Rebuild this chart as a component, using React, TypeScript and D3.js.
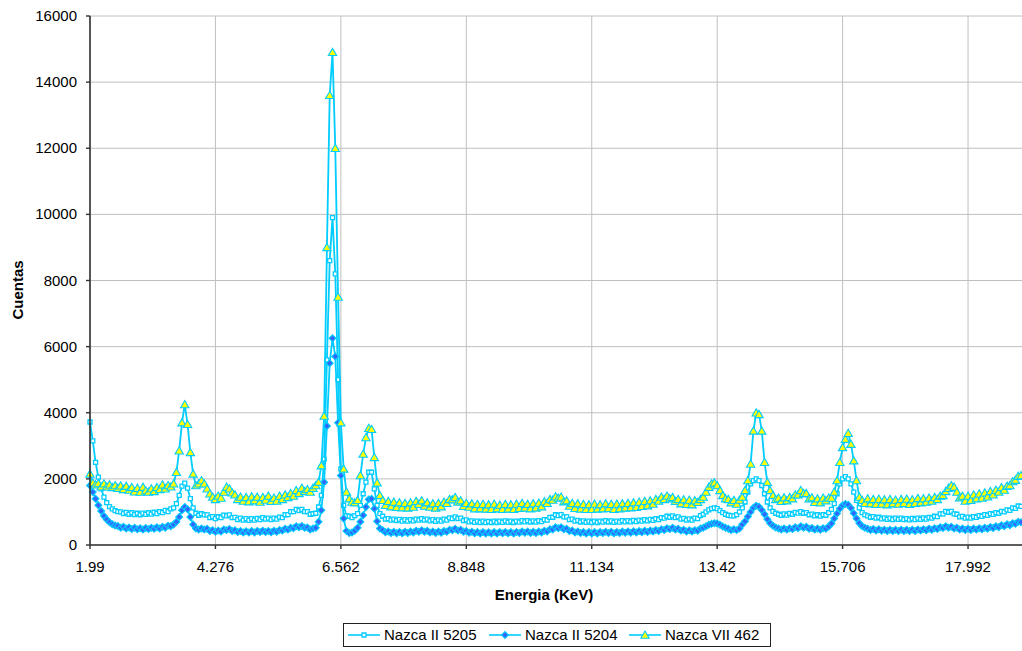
import React, { useEffect } from "react";
import * as d3 from "d3";

const W = 1022;
const H = 651;

const xTickLabels = ["1.99", "4.276", "6.562", "8.848", "11.134", "13.42", "15.706", "17.992"];
const xTickEvery = 45;
const yTicks = [0, 2000, 4000, 6000, 8000, 10000, 12000, 14000, 16000];
const seriesNames = ["Nazca II 5205", "Nazca II 5204", "Nazca VII 462"];

const nazcaII5205 = [
  3720, 3150, 2500, 2050, 1700, 1450, 1280, 1160, 1090, 1040,
  1010, 1000, 950, 985, 930, 975, 920, 960, 915, 965,
  925, 975, 935, 990, 950, 1010, 980, 1045, 1010, 1090,
  1120, 1250, 1500, 1780, 1870, 1720, 1400, 1120, 960, 900,
  945, 910, 910, 830, 860, 800, 855, 830, 905, 880,
  910, 830, 835, 770, 810, 750, 795, 745, 795, 755,
  805, 770, 825, 780, 815, 765, 815, 780, 845, 830,
  915, 920, 1010, 1010, 1075, 1040, 1075, 1010, 1010, 930,
  945, 960, 1150, 1500, 2600, 5600, 8600, 9900, 8200, 5000,
  2300, 1200, 880, 870, 830, 890, 950, 1200, 1550, 1900,
  2200, 2200, 1700, 1200, 950, 870, 780, 800, 750, 785,
  740, 775, 725, 765, 720, 770, 730, 785, 750, 800,
  750, 785, 730, 765, 715, 760, 720, 780, 755, 820,
  800, 850, 800, 810, 740, 760, 700, 730, 685, 720,
  680, 720, 675, 715, 680, 720, 680, 720, 685, 730,
  685, 720, 680, 725, 690, 735, 700, 740, 695, 730,
  690, 735, 705, 765, 755, 835, 840, 915, 890, 920,
  850, 850, 770, 780, 720, 745, 695, 730, 685, 720,
  680, 720, 680, 725, 690, 735, 695, 730, 685, 725,
  690, 735, 700, 740, 700, 745, 710, 755, 720, 765,
  730, 775, 745, 795, 770, 830, 810, 870, 840, 880,
  830, 850, 785, 805, 755, 790, 755, 810, 800, 890,
  930, 1000, 1060, 1100, 1120, 1100, 1040, 980, 930, 900,
  880, 880, 920, 1000, 1120, 1300, 1600, 1850, 1950, 2000,
  1950, 1800, 1550, 1300, 1120, 1020, 960, 930, 900, 940,
  905, 955, 930, 985, 965, 1010, 960, 980, 915, 935,
  880, 915, 875, 920, 900, 980, 1080, 1250, 1550, 1850,
  2000, 2070, 2000, 1850, 1600, 1350, 1120, 980, 910, 880,
  840, 860, 810, 840, 790, 820, 775, 810, 770, 810,
  775, 810, 765, 800, 760, 805, 770, 810, 775, 820,
  785, 835, 810, 870, 860, 940, 940, 1015, 990, 1020,
  940, 930, 850, 865, 810, 845, 810, 860, 835, 890,
  865, 920, 895, 950, 925, 980, 960, 1020, 1000, 1060,
  1050, 1120, 1110, 1180, 1170,
];

const nazcaII5204 = [
  1800, 1600, 1400, 1200, 1030, 880, 770, 690, 630, 590,
  575, 525, 550, 500, 530, 485, 520, 475, 510, 470,
  515, 480, 525, 490, 535, 500, 550, 525, 585, 570,
  620, 700, 850, 1050, 1150, 1080, 850, 620, 500, 470,
  500, 470, 490, 425, 450, 400, 440, 410, 470, 450,
  485, 425, 445, 390, 420, 375, 415, 375, 420, 380,
  425, 390, 430, 390, 425, 385, 430, 400, 455, 435,
  490, 465, 520, 510, 570, 540, 575, 520, 530, 470,
  500, 520, 700, 1050, 1900, 3600, 5500, 6250, 5700, 3700,
  2100, 800, 420, 360, 380, 430, 520, 700, 900, 1150,
  1380, 1400, 1100, 720, 500, 450, 385, 410, 360, 400,
  355, 395, 355, 400, 365, 410, 380, 430, 400, 445,
  400, 430, 380, 410, 365, 405, 370, 420, 400, 465,
  445, 490, 440, 460, 400, 420, 370, 400, 355, 390,
  350, 390, 345, 385, 350, 390, 350, 390, 355, 395,
  355, 390, 350, 395, 360, 405, 370, 410, 365, 400,
  360, 405, 375, 430, 410, 480, 470, 535, 505, 535,
  475, 490, 425, 440, 380, 410, 360, 395, 350, 390,
  350, 390, 350, 395, 360, 400, 360, 400, 355, 395,
  360, 405, 370, 410, 370, 415, 380, 420, 385, 430,
  395, 440, 405, 455, 425, 480, 455, 510, 480, 520,
  470, 495, 435, 460, 410, 445, 405, 450, 430, 500,
  520, 570, 610, 640, 660, 650, 610, 560, 520, 490,
  450, 480, 450, 500, 620, 720, 860, 1000, 1130, 1190,
  1160, 1060, 930, 780, 660, 580, 530, 500, 470, 500,
  465, 510, 480, 535, 510, 565, 525, 550, 490, 515,
  465, 500, 460, 510, 490, 560, 650, 800, 950, 1100,
  1200, 1240, 1220, 1120, 960, 800, 660, 570, 520, 490,
  455, 485, 440, 475, 430, 465, 420, 460, 420, 460,
  420, 460, 420, 460, 420, 465, 425, 470, 435, 480,
  445, 490, 460, 510, 485, 540, 515, 565, 525, 555,
  500, 525, 470, 500, 455, 495, 455, 500, 465, 510,
  475, 525, 495, 545, 515, 565, 540, 595, 570, 625,
  600, 660, 640, 700, 690,
];

const nazcaVII462 = [
  2150, 1880, 1820, 1860, 1760, 1850, 1760, 1820, 1740, 1800,
  1720, 1790, 1680, 1780, 1660, 1740, 1610, 1720, 1600, 1750,
  1640, 1600, 1700, 1620, 1740, 1680, 1820, 1700, 1800, 1760,
  1850, 2200, 2850, 3700, 4250, 3650, 2800, 2150, 1800, 1850,
  1950, 1850, 1700, 1550, 1450, 1380, 1480, 1420, 1600, 1750,
  1700, 1580, 1520, 1380, 1450, 1330, 1440, 1310, 1460, 1340,
  1450, 1300, 1440, 1360, 1480, 1320, 1420, 1330, 1480, 1380,
  1520, 1440, 1560, 1480, 1650, 1560, 1720, 1620, 1680, 1600,
  1720, 1800, 1900, 2400, 3900, 9000, 13600, 14900, 12000, 7500,
  3700, 2300, 1600, 1400, 1300, 1280, 1350, 2100, 2750, 3250,
  3530, 3500, 2650, 1880, 1500, 1350, 1200, 1320, 1160, 1300,
  1140, 1280, 1130, 1260, 1120, 1280, 1150, 1320, 1230, 1340,
  1180, 1280, 1150, 1250, 1120, 1260, 1160, 1300, 1260, 1380,
  1370, 1440, 1300, 1340, 1170, 1260, 1150, 1250, 1100, 1230,
  1100, 1230, 1090, 1220, 1080, 1240, 1100, 1210, 1080, 1230,
  1090, 1220, 1080, 1240, 1110, 1260, 1120, 1230, 1100, 1250,
  1120, 1270, 1160, 1310, 1260, 1380, 1360, 1460, 1420, 1450,
  1310, 1340, 1180, 1260, 1110, 1250, 1090, 1230, 1080, 1220,
  1080, 1240, 1090, 1220, 1100, 1250, 1110, 1230, 1080, 1240,
  1100, 1250, 1120, 1260, 1130, 1280, 1140, 1300, 1170, 1320,
  1190, 1340, 1240, 1380, 1330, 1450, 1380, 1480, 1400, 1440,
  1320, 1380, 1250, 1370, 1230, 1360, 1220, 1340, 1290, 1380,
  1450, 1600, 1750, 1850, 1880, 1800, 1650, 1500, 1400, 1380,
  1280, 1350, 1240, 1360, 1450, 1650, 1950, 2450, 3450, 4000,
  3950, 3450, 2500, 1900, 1650, 1500, 1380, 1420, 1320, 1430,
  1340, 1440, 1400, 1520, 1520, 1650, 1560, 1560, 1400, 1430,
  1290, 1400, 1280, 1420, 1340, 1420, 1420, 1600, 1950, 2500,
  2950, 3200, 3380, 3050, 2550, 1950, 1450, 1350, 1260, 1400,
  1250, 1380, 1230, 1390, 1240, 1370, 1220, 1380, 1250, 1360,
  1240, 1380, 1260, 1390, 1230, 1370, 1260, 1410, 1280, 1400,
  1300, 1420, 1330, 1440, 1380, 1480, 1500, 1620, 1720, 1800,
  1750, 1600, 1430, 1480, 1330, 1480, 1350, 1520, 1400, 1550,
  1420, 1580, 1460, 1620, 1520, 1660, 1600, 1740, 1660, 1780,
  1800, 1920, 1960, 2080, 2100,
];

const LINE = "#00CCFF";
const FONT = "'Liberation Sans', Arial, Helvetica, sans-serif";

const PL = 90, PR = 1021, PT = 16, PB = 545;

const squarePath = d3.symbol().type(d3.symbolSquare).size(16)() as string;
const diamondPath = d3.symbol().type(d3.symbolSquare).size(24)() as string;
const trianglePath = d3.symbol().type(d3.symbolTriangle).size(30)() as string;

function Marker({ kind, cx, cy }: { kind: number; cx: number; cy: number }) {
  if (kind === 0)
    return <path d={squarePath} transform={`translate(${cx},${cy})`} fill="#ffffff" stroke={LINE} strokeWidth={1.3} />;
  if (kind === 1)
    return <path d={diamondPath} transform={`translate(${cx},${cy}) rotate(45)`} fill="#3366FF" stroke={LINE} strokeWidth={1.1} />;
  return <path d={trianglePath} transform={`translate(${cx},${cy + 0.8})`} fill="#FFFF00" stroke={LINE} strokeWidth={1.1} />;
}

export default function App() {
  useEffect(() => {
    document.body.style.margin = "0";
  }, []);

  const allSeries = [nazcaII5205, nazcaII5204, nazcaVII462];
  const N = nazcaII5205.length;
  const x = d3.scaleLinear().domain([0, N - 1]).range([PL, PR]);
  const y = d3.scaleLinear().domain([0, 16000]).range([PB, PT]);
  const line = d3.line<number>().x((_, i) => x(i)).y((d) => y(d));

  const xTicks = xTickLabels.map((lab, k) => ({ lab, i: k * xTickEvery }));

  const legendX = [348, 489, 629];
  const legendY = 635;

  return (
    <svg width={W} height={H} style={{ position: "absolute", left: 0, top: 0, background: "#fff" }} fontFamily={FONT}>
      <rect x={0} y={0} width={W} height={H} fill="#fff" />
      {yTicks.map((t) => (
        <line key={"gy" + t} x1={PL} x2={PR + 2} y1={y(t)} y2={y(t)} stroke="#c0c0c0" strokeWidth={1} />
      ))}
      {xTicks.map((t) => (
        <line key={"gx" + t.i} x1={x(t.i)} x2={x(t.i)} y1={PT} y2={PB} stroke="#c0c0c0" strokeWidth={1} />
      ))}
      {allSeries.map((s, k) => (
        <g key={"s" + k}>
          <path d={line(s) as string} fill="none" stroke={LINE} strokeWidth={1.8} strokeLinejoin="round" />
          {s.map((v, i) => (
            <Marker key={i} kind={k} cx={x(i)} cy={y(v)} />
          ))}
        </g>
      ))}
      <line x1={PL} x2={PL} y1={PT} y2={PB} stroke="#333" strokeWidth={1.6} />
      <line x1={PL} x2={PR + 2} y1={PB} y2={PB} stroke="#333" strokeWidth={1.6} />
      {yTicks.map((t) => (
        <g key={"ty" + t}>
          <line x1={PL - 4} x2={PL} y1={y(t)} y2={y(t)} stroke="#333" strokeWidth={1.4} />
          <text x={77} y={y(t) + 5} textAnchor="end" fontSize={15} fill="#000">
            {t}
          </text>
        </g>
      ))}
      {xTicks.map((t) => (
        <g key={"tx" + t.i}>
          <line x1={x(t.i)} x2={x(t.i)} y1={PB} y2={PB + 4} stroke="#333" strokeWidth={1.4} />
          <text x={x(t.i)} y={572} textAnchor="middle" fontSize={15} fill="#000">
            {t.lab}
          </text>
        </g>
      ))}
      <text x={544} y={600} textAnchor="middle" fontSize={15} fontWeight="bold" fill="#000">
        Energia (KeV)
      </text>
      <text transform="translate(23,290) rotate(-90)" textAnchor="middle" fontSize={15} fontWeight="bold" fill="#000">
        Cuentas
      </text>
      <rect x={343.5} y={623.5} width={427} height={23} fill="#fff" stroke="#222" strokeWidth={1} />
      {seriesNames.map((name, k) => (
        <g key={"lg" + k}>
          <line x1={legendX[k]} x2={legendX[k] + 32} y1={legendY} y2={legendY} stroke={LINE} strokeWidth={1.6} />
          <Marker kind={k} cx={legendX[k] + 16} cy={legendY} />
          <text x={legendX[k] + 36} y={legendY + 5} fontSize={15} fill="#000">
            {name}
          </text>
        </g>
      ))}
    </svg>
  );
}
